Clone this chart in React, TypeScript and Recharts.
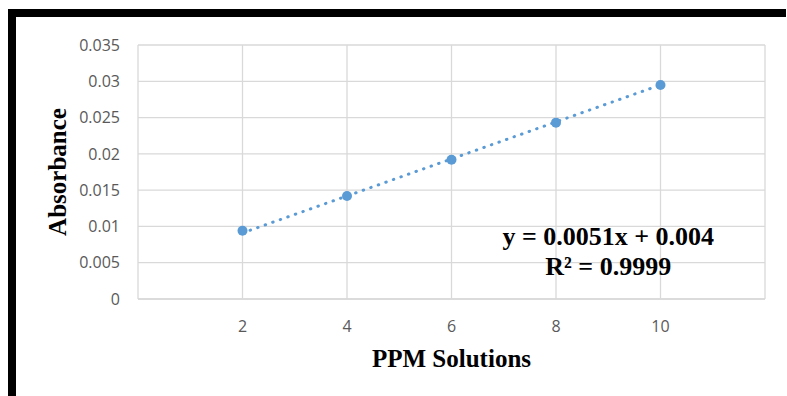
import {
  ComposedChart,
  Line,
  XAxis,
  YAxis,
  CartesianGrid,
  ReferenceDot,
  Label,
} from 'recharts'

const ppm = [2, 4, 6, 8, 10]
const absorbance = [0.0094, 0.0142, 0.0192, 0.0243, 0.0295]
// linear trendline y = 0.0051x + 0.004 (Excel fit on point index)
const trend = [0.0091, 0.0142, 0.0193, 0.0244, 0.0295]
const xTicks = [0, 2, 4, 6, 8, 10, 12]
const yTicks = [0, 0.005, 0.01, 0.015, 0.02, 0.025, 0.03, 0.035]
const equationText = ['y = 0.0051x + 0.004', 'R² = 0.9999']

const blue = '#5B9BD5'
const tickStyle = { fontSize: 16, fill: '#595959', fontFamily: 'Open Sans' }
const titleStyle = {
  fontSize: 25,
  fontWeight: 700,
  fill: '#000',
  fontFamily: '"Liberation Serif", serif',
}

const data = ppm.map((x, i) => ({ x, absorbance: absorbance[i], trend: trend[i] }))

function YTitle(props: any) {
  const { x, y, height } = props.viewBox
  const cx = x - 21
  const cy = y + height / 2
  return (
    <text
      x={cx}
      y={cy}
      transform={`rotate(-90 ${cx} ${cy})`}
      textAnchor="middle"
      dominantBaseline="central"
      style={titleStyle}
    >
      Absorbance
    </text>
  )
}

function XTitle(props: any) {
  const { x, y, width } = props.viewBox
  return (
    <text x={x + width / 2} y={y + 68} textAnchor="middle" style={titleStyle}>
      PPM Solutions
    </text>
  )
}

function Equation(props: any) {
  const { x, y } = props.viewBox
  return (
    <g>
      <text x={x} y={y - 15} textAnchor="middle" style={{ ...titleStyle, fontSize: 26 }}>
        {equationText[0]}
      </text>
      <text x={x} y={y + 15} textAnchor="middle" style={{ ...titleStyle, fontSize: 26 }}>
        {equationText[1]}
      </text>
    </g>
  )
}

export default function App() {
  return (
    <div
      style={{
        position: 'absolute',
        left: 0,
        top: 0,
        width: 787,
        height: 396,
        background: '#fff',
        overflow: 'hidden',
      }}
    >
      <div style={{ position: 'absolute', left: 8, top: 9, width: 8, height: 387, background: '#000' }} />
      <div style={{ position: 'absolute', left: 8, top: 9, width: 778, height: 8, background: '#000' }} />
      <ComposedChart
        width={787}
        height={396}
        data={data}
        margin={{ top: 45, right: 22, left: 78, bottom: 67 }}
      >
        <CartesianGrid stroke="#d9d9d9" strokeWidth={1.3} />
        <XAxis
          type="number"
          dataKey="x"
          domain={[0, 12]}
          ticks={xTicks}
          interval={0}
          tickFormatter={(v) => (v === 0 || v === 12 ? '' : String(v))}
          tick={tickStyle}
          tickLine={false}
          axisLine={{ stroke: '#d9d9d9', strokeWidth: 1.3 }}
          tickSize={0}
          tickMargin={22}
          height={30}
        >
          <Label content={<XTitle />} />
        </XAxis>
        <YAxis
          type="number"
          domain={[0, 0.035]}
          ticks={yTicks}
          interval={0}
          tickFormatter={(v) => String(+Number(v).toFixed(3))}
          tick={tickStyle}
          tickLine={false}
          axisLine={false}
          tickSize={0}
          tickMargin={18}
          width={60}
        >
          <Label content={<YTitle />} />
        </YAxis>
        <Line
          dataKey="trend"
          stroke={blue}
          strokeWidth={3}
          strokeDasharray="0.5 7.5"
          strokeLinecap="round"
          dot={false}
          activeDot={false}
          isAnimationActive={false}
        />
        <Line
          dataKey="absorbance"
          stroke="none"
          dot={{ r: 5, fill: blue, stroke: blue, strokeWidth: 0 }}
          activeDot={false}
          isAnimationActive={false}
        />
        <ReferenceDot
          x={9}
          y={0.00537}
          r={0}
          fill="none"
          stroke="none"
          label={<Equation />}
        />
      </ComposedChart>
    </div>
  )
}
